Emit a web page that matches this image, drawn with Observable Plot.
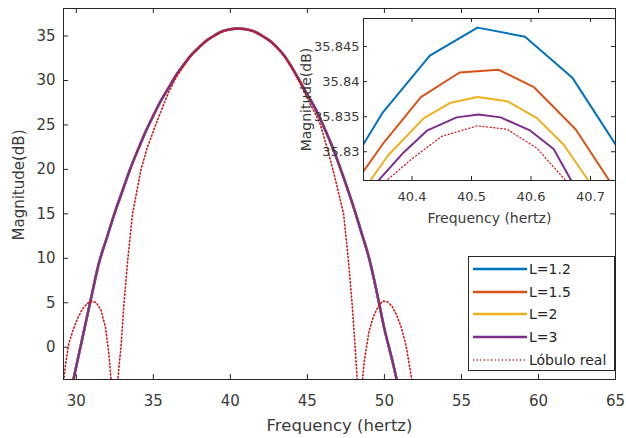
<!DOCTYPE html>
<html>
<head>
<meta charset="utf-8">
<script src="https://cdn.jsdelivr.net/npm/d3@7"></script>
<script src="https://cdn.jsdelivr.net/npm/@observablehq/plot@0.6"></script>
<style>
  html, body { margin: 0; padding: 0; background: #fff; }
  #wrap { position: relative; width: 626px; height: 438px; overflow: hidden; font-family: "DejaVu Sans", sans-serif; }
  #main { position: absolute; left: 0; top: 0; }
  #inset { position: absolute; left: 283px; top: 0; }
  #legend { position: absolute; left: 468px; top: 256px; width: 147px; height: 115px; box-sizing: border-box;
            border: 1px solid #262626; background: #fff; }
  .row { position: absolute; left: 0; height: 20px; display: flex; align-items: center; font-size: 14px; color: #262626; }
  .row svg { margin-left: 4px; margin-right: 2px; }
</style>
</head>
<body>
<div id="wrap">
  <div id="main"></div>
  <div id="inset"></div>
  <div id="legend"></div>
</div>
<script>
// ---------------- data ----------------
const seriesNames = ["L=1.2", "L=1.5", "L=2", "L=3"];
const realName = "Lóbulo real";

// main-view profile of the L curves (all four coincide at this scale)
const mainFreq = [29.5, 30.0, 30.5, 31.0, 31.5, 32.0, 32.5, 33.0, 33.5, 34.0, 34.5, 35.0, 35.5, 36.0, 36.5, 37.0, 37.5, 38.0, 38.5, 39.0, 39.5, 40.0, 40.5,
                  41.0, 41.5, 42.0, 42.5, 43.0, 43.5, 44.0, 44.5, 45.0, 45.5, 46.0, 46.5, 47.0, 47.5, 48.0, 48.5, 49.0, 49.5, 50.0, 50.5, 51.0];
const mainMag  = [-6.1, -2.15, 1.85, 5.85, 9.65, 12.4, 15.15, 17.6, 20.05, 22.2, 24.25, 26.05, 27.75, 29.2, 30.65, 31.85, 32.95, 33.8, 34.55, 35.1, 35.55, 35.77, 35.85,
                  35.77, 35.55, 35.1, 34.55, 33.8, 32.8, 31.45, 29.95, 28.4, 26.9, 25.05, 23.05, 20.8, 18.35, 15.75, 12.95, 10.05, 6.25, 2.05, -1.4, -5.2];

// "Lóbulo real" (side lobe, main lobe, side lobe)
const realFreq = [29.1, 29.3, 29.5, 29.8, 30.1, 30.4, 30.7, 31.0, 31.3, 31.6, 31.9, 32.1, 32.3,
                  32.6, 32.75, 32.9, 33.1, 33.35, 33.65, 34.2, 34.6, 35.15, 35.6, 36.0, 36.5, 37.0, 37.5, 38.0, 38.5, 39.0, 39.5, 40.0, 40.5,
                  41.0, 41.5, 42.0, 42.5, 43.0, 43.5, 44.0, 44.5, 45.0, 45.5, 45.85, 46.35, 46.8, 47.35, 47.65, 47.9, 48.1, 48.25, 48.4,
                  48.5, 48.7, 49.0, 49.3, 49.6, 49.9, 50.2, 50.5, 50.8, 51.1, 51.4, 51.6, 51.9];
const realMag  = [-5.0, -2.0, 0.3, 2.0, 3.3, 4.3, 4.9, 5.2, 5.0, 4.2, 2.2, -0.5, -4.5,
                  -6.0, -2.6, 0.0, 5.0, 10.0, 15.0, 20.0, 22.4, 25.0, 27.0, 28.7, 30.4, 31.7, 32.85, 33.75, 34.5, 35.05, 35.5, 35.75, 35.833,
                  35.75, 35.5, 35.05, 34.5, 33.7, 32.7, 31.4, 29.8, 28.0, 26.3, 25.0, 22.0, 19.0, 15.0, 10.0, 5.0, 0.0, -4.0, -7.0,
                  -5.0, -1.5, 1.8, 3.5, 4.6, 5.2, 5.1, 4.6, 3.6, 2.2, 0.2, -1.8, -5.0];

// zoomed (inset) values around the peak
const insetFreq = [
  [40.27, 40.35, 40.43, 40.51, 40.59, 40.67, 40.75],
  [40.30, 40.35, 40.415, 40.48, 40.545, 40.605, 40.675, 40.75],
  [40.31, 40.36, 40.42, 40.465, 40.51, 40.56, 40.61, 40.655, 40.72],
  [40.30, 40.386, 40.425, 40.475, 40.512, 40.549, 40.599, 40.638, 40.70]
];
const insetMag = [
  [35.8243, 35.8355, 35.8437, 35.8477, 35.8464, 35.8405, 35.8300],
  [35.8250, 35.8310, 35.8378, 35.8413, 35.8417, 35.8392, 35.8332, 35.8235],
  [35.8235, 35.8295, 35.8348, 35.8370, 35.8378, 35.8372, 35.8348, 35.8310, 35.8230],
  [35.8218, 35.8299, 35.8330, 35.8349, 35.8353, 35.8349, 35.8330, 35.8304, 35.8210]
];
const insetRealFreq = [40.33, 40.36, 40.40, 40.45, 40.51, 40.56, 40.61, 40.655, 40.69];
const insetRealMag  = [35.8235, 35.8261, 35.8290, 35.8322, 35.8337, 35.8332, 35.8305, 35.8262, 35.8225];

// tick values
const xTicks = [30, 35, 40, 45, 50, 55, 60, 65];
const yTicks = [0, 5, 10, 15, 20, 25, 30, 35];
const insetXTicks = [40.4, 40.5, 40.6, 40.7];
const insetYTicks = [35.83, 35.835, 35.84, 35.845];

// ---------------- styling ----------------
const colors = ["#0072BD", "#D95319", "#EDB120", "#7E2F8E"];
const realColor = "#d01818";
const axisColor = "#262626";
const textColor = "#3a3a3a";
const font = "DejaVu Sans, sans-serif";
const plain = d => String(d);

const toPts = (fs, ms) => fs.map((f, i) => ({f, m: ms[i]}));
const mainPts = toPts(mainFreq, mainMag);
const realPts = toPts(realFreq, realMag);

// ---------------- main chart ----------------
const W = 626, H = 438, mL = 63, mR = 11, mT = 8, mB = 59;
const fw = W - mL - mR, fh = H - mT - mB;

const main = Plot.plot({
  width: W, height: H,
  marginLeft: mL, marginRight: mR, marginTop: mT, marginBottom: mB,
  x: {domain: [29.17, 65]},
  y: {domain: [-3.63, 38.1]},
  style: {fontFamily: font, fontSize: "15px", color: axisColor, background: "white", overflow: "visible"},
  marks: [
    ...colors.map(c => Plot.line(mainPts, {x: "f", y: "m", stroke: c, strokeWidth: 2.4, curve: "catmull-rom", clip: true})),
    Plot.line(realPts, {x: "f", y: "m", stroke: realColor, strokeWidth: 1.6, strokeDasharray: "1.2,2.4", clip: true}),
    Plot.frame({stroke: axisColor, strokeWidth: 1}),
    Plot.tickX(xTicks, {x: d => d, stroke: axisColor, insetTop: fh - 5}),
    Plot.tickX(xTicks, {x: d => d, stroke: axisColor, insetBottom: fh - 5}),
    Plot.tickY(yTicks, {y: d => d, stroke: axisColor, insetRight: fw - 5}),
    Plot.tickY(yTicks, {y: d => d, stroke: axisColor, insetLeft: fw - 5}),
    Plot.axisX({ticks: xTicks, tickSize: 0, tickPadding: 16, tickFormat: plain, label: null, fill: textColor}),
    Plot.axisY({ticks: yTicks, tickSize: 0, tickPadding: 8, tickFormat: plain, label: null, fill: textColor}),
    Plot.text(["Frequency (hertz)"], {frameAnchor: "bottom", dy: 46, lineAnchor: "middle", textAnchor: "middle", fontSize: 16.5, fill: textColor}),
    Plot.text(["Magnitude(dB)"], {frameAnchor: "left", dx: -44, dy: -9, lineAnchor: "middle", textAnchor: "middle", rotate: -90, fontSize: 15, fill: textColor})
  ]
});
document.getElementById("main").appendChild(main);

// ---------------- inset chart ----------------
const iW = 343, iH = 235, iL = 80, iR = 11, iT = 18, iB = 55;
const ifw = iW - iL - iR, ifh = iH - iT - iB;

const inset = Plot.plot({
  width: iW, height: iH,
  marginLeft: iL, marginRight: iR, marginTop: iT, marginBottom: iB,
  x: {domain: [40.3185, 40.742]},
  y: {domain: [35.8259, 35.849]},
  style: {fontFamily: font, fontSize: "13px", color: axisColor, background: "transparent", overflow: "visible"},
  marks: [
    Plot.frame({fill: "white", stroke: null}),
    ...colors.map((c, i) => Plot.line(toPts(insetFreq[i], insetMag[i]), {x: "f", y: "m", stroke: c, strokeWidth: 2, clip: true})),
    Plot.line(toPts(insetRealFreq, insetRealMag), {x: "f", y: "m", stroke: realColor, strokeWidth: 1.2, strokeDasharray: "1.2,2.4", clip: true}),
    Plot.frame({stroke: axisColor, strokeWidth: 1}),
    Plot.tickX(insetXTicks, {x: d => d, stroke: axisColor, insetTop: ifh - 4}),
    Plot.tickX(insetXTicks, {x: d => d, stroke: axisColor, insetBottom: ifh - 4}),
    Plot.tickY(insetYTicks, {y: d => d, stroke: axisColor, insetRight: ifw - 4}),
    Plot.tickY(insetYTicks, {y: d => d, stroke: axisColor, insetLeft: ifw - 4}),
    Plot.axisX({ticks: insetXTicks, tickSize: 0, tickPadding: 11, tickFormat: plain, label: null, fill: textColor}),
    Plot.axisY({ticks: insetYTicks, tickSize: 0, tickPadding: 4, tickFormat: plain, label: null, fill: textColor}),
    Plot.text(["Frequency (hertz)"], {frameAnchor: "bottom", dy: 38, lineAnchor: "middle", textAnchor: "middle", fontSize: 14, fill: textColor}),
    Plot.text(["Magnitude(dB)"], {frameAnchor: "left", dx: -57, lineAnchor: "middle", textAnchor: "middle", rotate: -90, fontSize: 14, fill: textColor})
  ]
});
document.getElementById("inset").appendChild(inset);

// ---------------- legend ----------------
const legend = document.getElementById("legend");
const entries = seriesNames.map((n, i) => ({name: n, color: colors[i], dash: null}))
  .concat([{name: realName, color: realColor, dash: "1.2,2.4"}]);
entries.forEach((e, i) => {
  const row = document.createElement("div");
  row.className = "row";
  row.style.top = (2 + i * 22.7) + "px";
  row.innerHTML = `<svg width="54" height="20"><line x1="0" x2="54" y1="10" y2="10" stroke="${e.color}" stroke-width="${e.dash ? 1.6 : 2.4}" ${e.dash ? `stroke-dasharray="${e.dash}"` : ""}/></svg><span>${e.name}</span>`;
  legend.appendChild(row);
});
</script>
</body>
</html>
